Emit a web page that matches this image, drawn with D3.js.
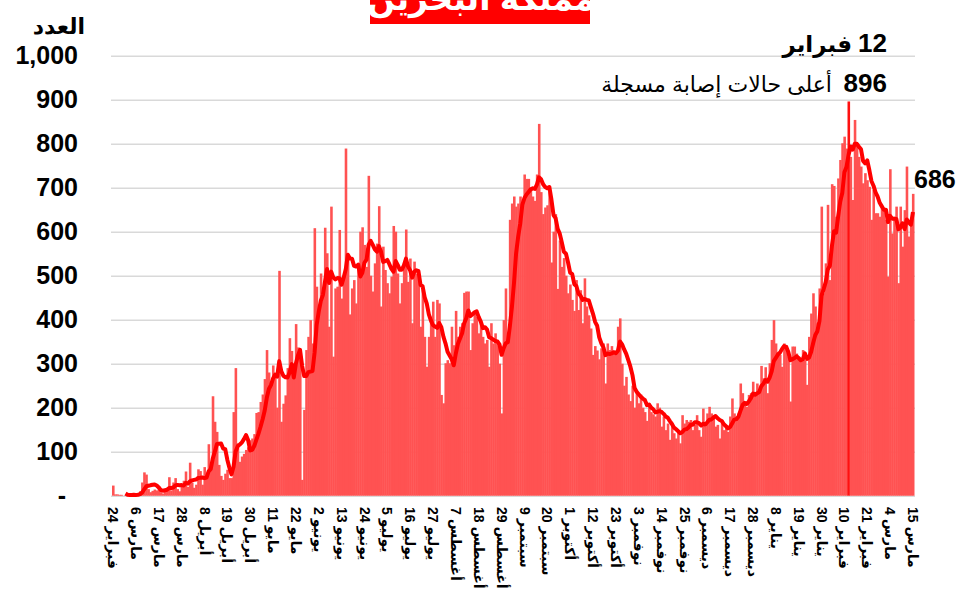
<!DOCTYPE html>
<html>
<head>
<meta charset="utf-8">
<script src="https://cdn.jsdelivr.net/npm/d3@7"></script>
<style>
body { margin: 0; background: #fff; }
svg { display: block; }
text { font-family: "Liberation Sans", "DejaVu Sans", Arial, sans-serif; }
</style>
</head>
<body>
<svg id="chart" width="966" height="607"></svg>
<script>
// daily new cases, Bahrain, 24 Feb 2020 - 15 Mar 2021
var startDate = new Date(2020, 1, 24);
var feb2020 = [23, 3, 3, 2, 2, 0];
var mar2020 = [1, 4, 1, 0, 6, 1, 2, 10, 30, 53, 48, 15, 8, 11, 14, 12, 22, 8, 5, 15, 18, 42, 12, 30, 40, 15, 10, 20, 34, 55, 20];
var apr2020 = [75, 30, 18, 25, 60, 56, 25, 65, 40, 117, 60, 226, 168, 145, 70, 45, 36, 50, 59, 40, 40, 190, 290, 119, 77, 89, 95, 104, 110, 126];
var may2020 = [130, 140, 188, 190, 213, 230, 265, 331, 280, 250, 296, 273, 200, 511, 168, 209, 228, 290, 358, 329, 300, 390, 337, 316, 36, 195, 331, 361, 399, 346, 608];
var jun2020 = [475, 407, 505, 452, 609, 551, 384, 657, 316, 471, 475, 604, 448, 498, 789, 549, 412, 471, 490, 437, 528, 600, 610, 570, 520, 727, 500, 464, 528, 573];
var jul2020 = [658, 430, 566, 513, 483, 460, 498, 613, 600, 505, 437, 483, 528, 605, 486, 539, 392, 532, 505, 513, 384, 467, 361, 293, 361, 407, 441, 361, 445, 437, 229];
var aug2020 = [210, 301, 308, 301, 384, 342, 420, 361, 384, 392, 461, 464, 464, 331, 392, 414, 407, 369, 392, 361, 346, 354, 293, 392, 346, 369, 354, 300, 187, 399, 471];
var sep2020 = [361, 627, 664, 680, 657, 664, 680, 660, 730, 720, 720, 700, 680, 670, 730, 845, 690, 640, 655, 660, 690, 530, 600, 640, 470, 580, 520, 540, 500, 460];
var oct2020 = [480, 445, 420, 490, 422, 467, 392, 494, 430, 410, 380, 320, 340, 330, 310, 335, 346, 255, 346, 331, 340, 330, 320, 384, 403, 300, 250, 270, 230, 215, 250];
var nov2020 = [200, 240, 210, 230, 200, 190, 170, 210, 190, 185, 180, 210, 200, 157, 180, 149, 164, 127, 164, 142, 130, 149, 119, 183, 164, 172, 168, 172, 149, 161];
var dec2020 = [183, 149, 134, 198, 157, 187, 202, 187, 180, 157, 161, 130, 172, 149, 157, 145, 180, 221, 187, 180, 187, 255, 233, 214, 202, 229, 233, 259, 236, 255, 236];
var jan2021 = [295, 267, 292, 233, 301, 354, 399, 346, 323, 320, 293, 346, 342, 316, 214, 339, 339, 323, 316, 308, 331, 308, 252, 361, 414, 460, 430, 392, 471, 657, 460];
var feb2021 = [528, 661, 490, 708, 704, 634, 721, 763, 801, 816, 789, 896, 770, 672, 854, 801, 770, 748, 710, 733, 717, 702, 627, 695, 642, 642, 634, 661];
var mar2021 = [649, 627, 498, 742, 596, 634, 657, 483, 657, 566, 649, 748, 589, 619, 686];

var cases = [].concat(feb2020, mar2020, apr2020, may2020, jun2020, jul2020, aug2020,
	sep2020, oct2020, nov2020, dec2020, jan2021, feb2021, mar2021);

var arabicMonths = ["يناير", "فبراير", "مارس", "أبريل", "مايو", "يونيو", "يوليو",
	"أغسطس", "سبتمبر", "أكتوبر", "نوفمبر", "ديسمبر"];

var tickLabels = ["24 فبراير", "6 مارس", "17 مارس", "28 مارس", "8 أبريل", "19 أبريل",
	"30 أبريل", "11 مايو", "22 مايو", "2 يونيو", "13 يونيو", "24 يونيو", "5 يوليو",
	"16 يوليو", "27 يوليو", "7 أغسطس", "18 أغسطس", "29 أغسطس", "9 سبتمبر", "20 سبتمبر",
	"1 أكتوبر", "12 أكتوبر", "23 أكتوبر", "3 نوفمبر", "14 نوفمبر", "25 نوفمبر",
	"6 ديسمبر", "17 ديسمبر", "28 ديسمبر", "8 يناير", "19 يناير", "30 يناير",
	"10 فبراير", "21 فبراير", "4 مارس", "15 مارس"];

var yTicks = [0, 100, 200, 300, 400, 500, 600, 700, 800, 900, 1000];

var title = "مملكة البحرين";
var yTitle = "العدد";
var peakNote = "أعلى حالات إصابة مسجلة";

var svg = d3.select("#chart");

var x = d3.scaleBand().domain(d3.range(cases.length)).range([112, 914]).padding(0);
var y = d3.scaleLinear().domain([0, 1000]).range([495.7, 55.7]);

// title box, cut at the top of the frame
svg.append("rect").attr("x", 370).attr("y", 0).attr("width", 220).attr("height", 24)
	.attr("fill", "#ff0000");
svg.append("text").attr("x", 481).attr("y", 10).attr("text-anchor", "middle")
	.attr("fill", "#fff").attr("font-size", 33).attr("font-weight", "bold").text(title);

// y axis with gridlines
var yAxis = svg.append("g").attr("transform", "translate(111,0)")
	.call(d3.axisLeft(y).tickValues(yTicks).tickSize(-(915 - 111)).tickPadding(33)
		.tickFormat(function(d) { return d === 0 ? "-" : d3.format(",")(d); }));
yAxis.select(".domain").remove();
yAxis.selectAll(".tick line").attr("stroke", "#d9d9d9").attr("stroke-width", 1.5);
yAxis.selectAll(".tick text").attr("font-size", 25).attr("font-weight", "bold")
	.attr("fill", "#000").attr("font-family", "Liberation Sans, Arial, sans-serif");
yAxis.selectAll(".tick").filter(function(d) { return d === 0; }).select("text")
	.attr("x", -45);

svg.append("text").attr("x", 85).attr("y", 34).attr("text-anchor", "end")
	.attr("font-size", 22).attr("font-weight", "bold").text(yTitle);

// bars
var peakIndex = d3.maxIndex(cases);
svg.append("g").selectAll("rect").data(cases).join("rect")
	.attr("x", function(d, i) { return x(i); })
	.attr("y", function(d) { return y(d); })
	.attr("width", x.bandwidth() + 0.5)
	.attr("height", function(d) { return y(0) - y(d); })
	.attr("fill", function(d, i) { return i === peakIndex ? "#ff1010" : "#ff5252"; });

// 7-day trailing average
var avg = cases.map(function(d, i) {
	return i < 6 ? null : d3.mean(cases.slice(i - 6, i + 1));
});
var line = d3.line()
	.defined(function(d) { return d !== null; })
	.x(function(d, i) { return x(i) + x.bandwidth() / 2; })
	.y(function(d) { return y(d); });
svg.append("path").datum(avg).attr("d", line).attr("fill", "none")
	.attr("stroke", "#ff0000").attr("stroke-width", 4).attr("stroke-linejoin", "round");

// x axis, label every 11 days
var xAxis = svg.append("g").attr("transform", "translate(0,496)")
	.call(d3.axisBottom(x).tickValues(d3.range(0, cases.length, 11)).tickSize(0)
		.tickFormat(function(d, k) { return tickLabels[k]; }));
xAxis.select(".domain").remove();
xAxis.selectAll(".tick text")
	.attr("transform", "rotate(90)")
	.attr("x", 11).attr("y", 0).attr("dy", "0.35em")
	.style("text-anchor", "start")
	.attr("font-size", 14).attr("font-weight", "bold").attr("fill", "#000")
	.attr("font-family", "Liberation Sans, DejaVu Sans, sans-serif");

// annotations
var peakDate = d3.timeDay.offset(startDate, peakIndex);
svg.append("text").attr("x", 887).attr("y", 52).attr("text-anchor", "end")
	.attr("font-size", 26).attr("font-weight", "bold").text(peakDate.getDate());
svg.append("text").attr("x", 852).attr("y", 52).attr("text-anchor", "end")
	.attr("font-size", 23).attr("font-weight", "bold").text(arabicMonths[peakDate.getMonth()]);
svg.append("text").attr("x", 887).attr("y", 92).attr("text-anchor", "end")
	.attr("font-size", 26).attr("font-weight", "bold").text(cases[peakIndex]);
svg.append("text").attr("x", 832).attr("y", 92).attr("text-anchor", "end")
	.attr("font-size", 22).text(peakNote);

var last = cases.length - 1;
svg.append("text").attr("x", 914).attr("y", 188)
	.attr("font-size", 25).attr("font-weight", "bold").text(cases[last]);
</script>
</body>
</html>
